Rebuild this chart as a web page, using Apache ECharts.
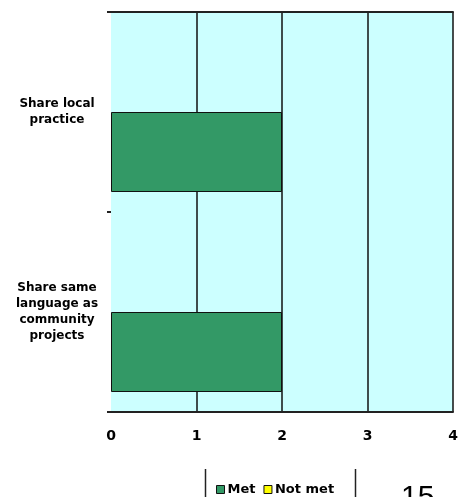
<!DOCTYPE html>
<html>
<head>
<meta charset="utf-8">
<script src="https://cdn.jsdelivr.net/npm/echarts@6/dist/echarts.min.js"></script>
<style>
  html, body { margin: 0; padding: 0; background: #fff; }
  #main { width: 464px; height: 497px; }
</style>
</head>
<body>
<div id="main"></div>
<script>
// categories, bottom to top
const categories = ['Share same\nlanguage as\ncommunity\nprojects', 'Share local\npractice']
const metValues = [2, 2]
const notMetValues = [0, 0]
const xTicks = ['0', '1', '2', '3', '4']

const labelFont = '"DejaVu Sans", Arial, sans-serif'
const myChart = echarts.init(document.getElementById('main'))
myChart.setOption({
  animation: false,
  backgroundColor: '#ffffff',
  grid: {
    left: 111,
    right: 11,
    top: 12,
    bottom: 85,
    show: true,
    backgroundColor: '#ccffff',
    borderWidth: 0
  },
  legend: {
    data: ['Met', 'Not met'],
    left: 211,
    top: 478,
    itemWidth: 8,
    itemHeight: 8,
    itemGap: 8,
    icon: 'rect',
    itemStyle: { borderColor: '#111', borderWidth: 1 },
    textStyle: { fontFamily: labelFont, fontWeight: 'bold', fontSize: 13, color: '#000', padding: [0, 0, 0, -2] }
  },
  xAxis: [
    {
      type: 'value',
      min: 0,
      max: 4,
      interval: 1,
      axisLine: { show: true, onZero: false, lineStyle: { color: '#222', width: 2 } },
      axisTick: { show: false },
      splitLine: { show: true, lineStyle: { color: ['rgba(0,0,0,0)', '#111', '#111', '#111', '#111'], width: 1.5 } },
      axisLabel: {
        margin: 17,
        formatter: v => xTicks[v],
        fontFamily: labelFont,
        fontWeight: 'bold',
        fontSize: 14,
        color: '#000'
      }
    },
    {
      type: 'value',
      position: 'top',
      min: 0,
      max: 4,
      interval: 1,
      axisLine: { show: true, onZero: false, lineStyle: { color: '#222', width: 2 } },
      axisTick: { show: false },
      splitLine: { show: false },
      axisLabel: { show: false }
    }
  ],
  yAxis: {
    type: 'category',
    data: categories,
    axisLine: { show: false },
    axisTick: { show: true, length: 4, lineStyle: { color: '#222', width: 2 } },
    axisLabel: {
      margin: 54,
      align: 'center',
      fontFamily: labelFont,
      fontWeight: 'bold',
      fontSize: 12,
      lineHeight: 16,
      color: '#000'
    }
  },
  series: [
    {
      name: 'Not met',
      type: 'bar',
      barGap: 0,
      barCategoryGap: '20%',
      itemStyle: { color: '#ffff00', borderWidth: 0 },
      data: notMetValues
    },
    {
      name: 'Met',
      type: 'bar',
      itemStyle: { color: '#339966', borderColor: '#111', borderWidth: 1 },
      data: metValues
    }
  ],
  graphic: [
    { type: 'line', shape: { x1: 205.5, y1: 469, x2: 205.5, y2: 497 }, style: { stroke: '#222', lineWidth: 1.5 } },
    { type: 'line', shape: { x1: 355.5, y1: 469, x2: 355.5, y2: 497 }, style: { stroke: '#222', lineWidth: 1.5 } },
    { type: 'text', left: 401, top: 483, style: { text: '15', fontFamily: 'Liberation Sans, Arial, sans-serif', fontSize: 30, fill: '#000' } }
  ]
})
</script>
</body>
</html>
